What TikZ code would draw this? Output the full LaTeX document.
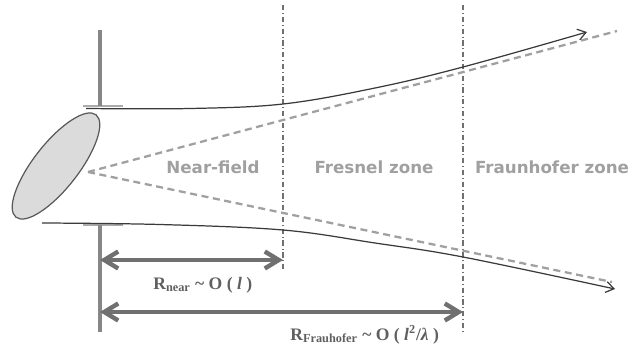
\documentclass[tikz,border=0pt]{standalone}
\usepackage{fontspec}
\setmainfont{Liberation Serif}
\newfontfamily\zonefont{DejaVu Sans}
\usetikzlibrary{shapes.geometric, arrows.meta, positioning}
\definecolor{zonegray}{HTML}{A0A0A0}
\definecolor{bargray}{HTML}{878787}
\definecolor{rulegray}{HTML}{707070}
\definecolor{beamgray}{HTML}{3A3A3A}
\definecolor{raygray}{HTML}{A0A0A0}

\begin{document}
\begin{tikzpicture}[x=0.2mm, y=-0.2mm,
    zonetext/.style={font=\zonefont\bfseries\fontsize{9.5}{11}\selectfont, text=zonegray, inner sep=0pt, anchor=base},
    disttext/.style={font=\bfseries\fontsize{10}{12}\selectfont, text=rulegray!85!black, inner sep=0pt, anchor=base west},
    aperture/.style={draw=bargray, line width=2.7pt},
    barfoot/.style={draw=bargray!70, line width=1.6pt},
    beam/.style={draw=beamgray, line width=0.7pt, -{Straight Barb[length=1.6mm, width=2.2mm]}},
    ray/.style={draw=raygray, line width=1.3pt, dash pattern=on 4pt off 2.6pt},
    zoneline/.style={draw=rulegray, line width=0.8pt, dash pattern=on 3pt off 1.6pt on 0.5pt off 1.6pt},
    spanline/.style={draw=rulegray, line width=2.5pt, {Straight Barb[length=2.8mm, width=3.4mm]}-{Straight Barb[length=2.8mm, width=3.4mm]}}
]
    \useasboundingbox (0,0) rectangle (630,348);

    % Points
    \coordinate (apex) at (88,172);
    \coordinate (uptop) at (100,30);   \coordinate (upfoot) at (100,106);
    \coordinate (lowfoot) at (100,225); \coordinate (lowend) at (100,332);
    \coordinate (nearb) at (283,5);    \coordinate (neare) at (283,270);
    \coordinate (farb) at (463,5);     \coordinate (fare) at (463,333);
    \coordinate (rayup) at (617,31);   \coordinate (raylow) at (612,282);

    % Zone borders
    \draw [zoneline] (nearb) -- (neare);
    \draw [zoneline] (farb) -- (fare);

    % Antenna
    \node (dish) [ellipse, draw=black!65, fill=black!14, line width=0.7pt, minimum width=26mm, minimum height=9mm, rotate=52] at (56,166) {};
    \draw [ray] (apex) -- (rayup);
    \draw [ray] (apex) -- (raylow);

    % Aperture bars
    \draw [barfoot] ([xshift=-17*0.2mm]upfoot) -- ([xshift=23*0.2mm]upfoot);
    \draw [barfoot] ([xshift=-17*0.2mm]lowfoot) -- ([xshift=23*0.2mm]lowfoot);
    \draw [aperture] (uptop) -- (upfoot);
    \draw [aperture] (lowfoot) -- (lowend);

    % Beam edges
    \draw [beam] plot[smooth, tension=0.6] coordinates {(86,108.5) (190,108.5) (283,104) (375,88) (463,67) (587,32)};
    \draw [beam] plot[smooth, tension=0.6] coordinates {(42,223) (160,224.5) (283,230) (375,243) (463,257) (615,289)};

    % Zone names
    \node (near) [zonetext] at (213,173) {Near-field};
    \node (fresnel) [zonetext] at (374,173) {Fresnel zone};
    \node (fraun) [zonetext] at (552,173) {Fraunhofer zone};

    % Distances
    \coordinate (nearl) at (100,260); \coordinate (nearr) at (283,260);
    \coordinate (farl) at (100,312);  \coordinate (farr) at (463,312);
    \draw [spanline] (nearl) -- (nearr);
    \draw [spanline] (farl) -- (farr);
    \node (rnear) [disttext] at (153,289) {R\textsubscript{near} \textasciitilde{} O ( \textit{l} )};
    \node (rfar) [disttext] at (290,340) {R\textsubscript{Frauhofer} \textasciitilde{} O ( \textit{l}\textsuperscript{2}/\textit{λ} )};
\end{tikzpicture}
\end{document}
